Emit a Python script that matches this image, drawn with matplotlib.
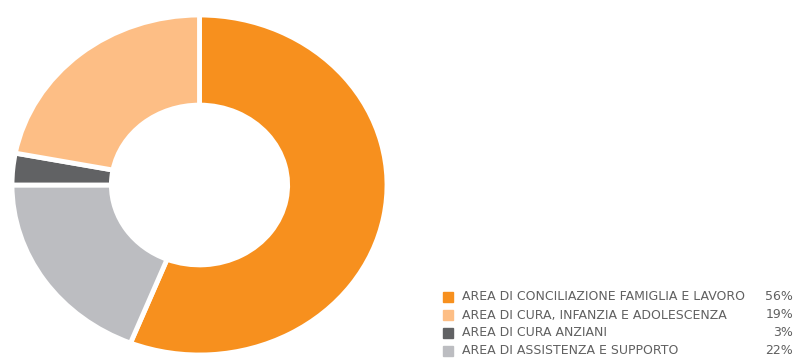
import matplotlib.pyplot as plt
from matplotlib.patches import Rectangle

labels = ["AREA DI CONCILIAZIONE FAMIGLIA E LAVORO",
          "AREA DI CURA, INFANZIA E ADOLESCENZA",
          "AREA DI CURA ANZIANI",
          "AREA DI ASSISTENZA E SUPPORTO"]
values = [56, 19, 3, 22]
colors = ["#F7901E", "#FDBE85", "#616264", "#BCBDC1"]

# the ring takes the values in legend order, but the colours go round
# orange, light grey, dark grey, light orange (as in the original)
ring_colors = [colors[0], colors[3], colors[2], colors[1]]

W, H = 795, 358
fig = plt.figure(figsize=(W / 100, H / 100), dpi=100)

ax = fig.add_axes([12 / W, 3 / H, 375 / W, 340 / H])
ax.pie(values, colors=ring_colors,
       startangle=90, counterclock=False, radius=1,
       wedgeprops=dict(width=0.53, edgecolor="white", linewidth=3.5))
ax.set_aspect("auto")
ax.set_xlim(-1, 1)
ax.set_ylim(-1, 1)
ax.axis("off")

# legend at lower right
y0, step = 297, 18
for i, (lab, val, col) in enumerate(zip(labels, values, colors)):
    y = y0 + i * step
    fig.patches.append(Rectangle((443 / W, 1 - (y + 5) / H), 10 / W, 10 / H,
                                 transform=fig.transFigure, color=col))
    fig.text(462 / W, 1 - y / H, lab, fontsize=9, color="#606060",
             family="DejaVu Sans", va="center", ha="left")
    fig.text(793 / W, 1 - y / H, f"{val}%", fontsize=9, color="#606060",
             family="DejaVu Sans", va="center", ha="right")

fig.savefig("out.png", dpi=100)
